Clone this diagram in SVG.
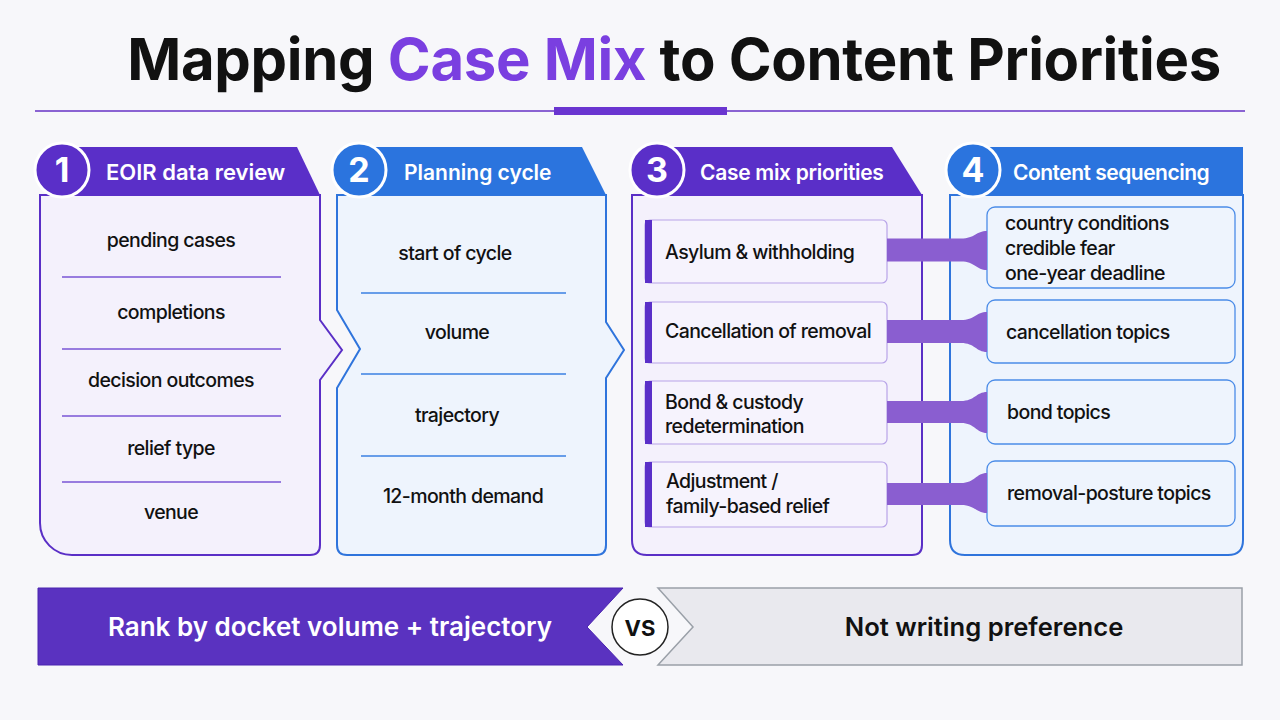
<svg xmlns="http://www.w3.org/2000/svg" width="1280" height="720" viewBox="0 0 1280 720">
<style>
text{font-family:Inter,"Noto Sans","Liberation Sans",sans-serif}
.title{font-size:58px;font-weight:700;fill:#111;letter-spacing:-0.3px}
.hd{font-size:21px;font-weight:600;fill:#fff}
.num{font-size:34px;font-weight:700;fill:#fff}
.t{font-size:19.5px;font-weight:500;fill:#111;letter-spacing:-0.6px}
.pbody{fill:#f4f1fc;stroke:#5a2fc6;stroke-width:2}
.bbody{fill:#eef4fd;stroke:#2f74dc;stroke-width:2}
.phead{fill:#5a2fc8}
.bhead{fill:#2b74de}
.pdiv{stroke:#7a55d6;stroke-width:1.3}
.bdiv{stroke:#3a80e2;stroke-width:1.3}
.pitem{fill:#f6f3fd;stroke:#b8a4e8;stroke-width:1.2}
.bitem{fill:#eef4fd;stroke:#4b8ce8;stroke-width:1.3}
.band{fill:#8a5ed0}
</style>
<rect width="1280" height="720" fill="#f7f7fa"/>

<g id="title">
<text class="title" x="674" y="80" text-anchor="middle">Mapping <tspan fill="#7a3fe0">Case Mix</tspan> to Content Priorities</text>
<line x1="35" y1="111" x2="1245" y2="111" stroke="#8a63d2" stroke-width="2"/>
<rect x="554" y="107" width="173" height="8" fill="#6a35d0"/>
</g>

<g id="panel1">
<path class="pbody" d="M40,195 H320 V320 L342,350 L320,380 V545 Q320,555 310,555 H72 A32 32 0 0 1 40,523 Z"/>
<path class="phead" d="M62,147 H297 L320,195 H62 Z"/>
<circle cx="62" cy="170" r="27" fill="#5a2fc8" stroke="#fff" stroke-width="3"/>
<text class="num" x="62" y="182" text-anchor="middle">1</text>
<text class="hd" x="106" y="180" style="font-size:22px">EOIR data review</text>
<line class="pdiv" x1="62" y1="277" x2="281" y2="277"/>
<line class="pdiv" x1="62" y1="349" x2="281" y2="349"/>
<line class="pdiv" x1="62" y1="416" x2="281" y2="416"/>
<line class="pdiv" x1="62" y1="482" x2="281" y2="482"/>
<text class="t" x="171" y="247" text-anchor="middle">pending cases</text>
<text class="t" x="171" y="319" text-anchor="middle">completions</text>
<text class="t" x="171" y="387" text-anchor="middle">decision outcomes</text>
<text class="t" x="171" y="455" text-anchor="middle">relief type</text>
<text class="t" x="171" y="519" text-anchor="middle">venue</text>
</g>

<g id="panel2">
<path class="bbody" d="M337,195 H606 V322 L624,350 L606,378 V545 Q606,555 596,555 H347 Q337,555 337,545 V388 L360,349 L337,310 Z"/>
<path class="bhead" d="M359,147 H582 L606,195 H359 Z"/>
<circle cx="359" cy="170" r="27" fill="#2b74de" stroke="#fff" stroke-width="3"/>
<text class="num" x="359" y="182" text-anchor="middle">2</text>
<text class="hd" x="404" y="180">Planning cycle</text>
<line class="bdiv" x1="361" y1="293" x2="566" y2="293"/>
<line class="bdiv" x1="361" y1="374" x2="566" y2="374"/>
<line class="bdiv" x1="361" y1="456" x2="566" y2="456"/>
<text class="t" x="455" y="260" text-anchor="middle">start of cycle</text>
<text class="t" x="457" y="339" text-anchor="middle">volume</text>
<text class="t" x="457" y="422" text-anchor="middle">trajectory</text>
<text class="t" x="463" y="503" text-anchor="middle">12-month demand</text>
</g>

<g id="panel3">
<path class="pbody" d="M632,195 H922 V545 Q922,555 912,555 H647 Q632,555 632,540 Z"/>
<path class="phead" d="M657,147 H892 L922,195 H657 Z"/>
<circle cx="657" cy="170" r="27" fill="#5a2fc8" stroke="#fff" stroke-width="3"/>
<text class="num" x="657" y="182" text-anchor="middle">3</text>
<text class="hd" x="700" y="180" style="letter-spacing:-0.3px">Case mix priorities</text>
<g id="p3-item1"><rect class="pitem" x="645" y="220" width="242" height="63" rx="5"/><rect x="645" y="220" width="7" height="63" fill="#5a2fc8"/><text class="t" x="665" y="259">Asylum &amp; withholding</text></g>
<g id="p3-item2"><rect class="pitem" x="645" y="302" width="242" height="61" rx="5"/><rect x="645" y="302" width="7" height="61" fill="#5a2fc8"/><text class="t" x="665" y="338">Cancellation of removal</text></g>
<g id="p3-item3"><rect class="pitem" x="645" y="381" width="242" height="63" rx="5"/><rect x="645" y="381" width="7" height="63" fill="#5a2fc8"/><text class="t" x="665" y="409">Bond &amp; custody</text><text class="t" x="665" y="433">redetermination</text></g>
<g id="p3-item4"><rect class="pitem" x="645" y="462" width="242" height="65" rx="5"/><rect x="645" y="462" width="7" height="65" fill="#5a2fc8"/><text class="t" x="666" y="488">Adjustment /</text><text class="t" x="666" y="513">family-based relief</text></g>
</g>

<g id="panel4">
<path class="bbody" d="M950,195 H1243 V540 Q1243,555 1228,555 H965 Q950,555 950,540 Z"/>
<path class="bhead" d="M973,147 H1243 V195 H973 Z"/>
<circle cx="973" cy="170" r="27" fill="#2b74de" stroke="#fff" stroke-width="3"/>
<text class="num" x="973" y="182" text-anchor="middle">4</text>
<text class="hd" x="1013" y="180" style="letter-spacing:-0.5px">Content sequencing</text>
<g id="p4-item1"><rect class="bitem" x="987" y="207" width="248" height="81" rx="8"/><text class="t" x="1005" y="230">country conditions</text><text class="t" x="1005" y="255">credible fear</text><text class="t" x="1005" y="280">one-year deadline</text></g>
<g id="p4-item2"><rect class="bitem" x="987" y="300" width="248" height="63" rx="8"/><text class="t" x="1006" y="339">cancellation topics</text></g>
<g id="p4-item3"><rect class="bitem" x="987" y="380" width="248" height="64" rx="8"/><text class="t" x="1007" y="419">bond topics</text></g>
<g id="p4-item4"><rect class="bitem" x="987" y="461" width="248" height="65" rx="8"/><text class="t" x="1007" y="500">removal-posture topics</text></g>
</g>

<g id="connectors">
<path class="band" d="M887,238.5 H961 C975,238.5 976,231 987,231 V270 C976,270 975,261.5 961,261.5 H887 Z"/>
<path class="band" d="M887,320 H961 C975,320 976,312 987,312 V352 C976,352 975,343 961,343 H887 Z"/>
<path class="band" d="M887,401 H961 C975,401 976,392 987,392 V433 C976,433 975,423 961,423 H887 Z"/>
<path class="band" d="M887,483 H961 C975,483 976,473 987,473 V513 C976,513 975,505 961,505 H887 Z"/>
</g>

<g id="compare">
<path d="M38,588 H623 L587,627 L623,665 H38 Z" fill="#5a32c0" stroke="#4a24b0" stroke-width="1"/>
<text x="330" y="636" text-anchor="middle" style="font-size:26px;font-weight:600;fill:#fff">Rank by docket volume + trajectory</text>
<path d="M658,588 H1242 V665 H658 L693,627 Z" fill="#e9e9ee" stroke="#9aa0a8" stroke-width="1.5"/>
<text x="984" y="636" text-anchor="middle" style="font-size:25.6px;font-weight:600;fill:#111">Not writing preference</text>
<circle cx="640" cy="627" r="28" fill="#fff" stroke="#222" stroke-width="1.5"/>
<text x="640" y="636" text-anchor="middle" style="font-size:22px;font-weight:700;fill:#111">VS</text>
</g>
</svg>
